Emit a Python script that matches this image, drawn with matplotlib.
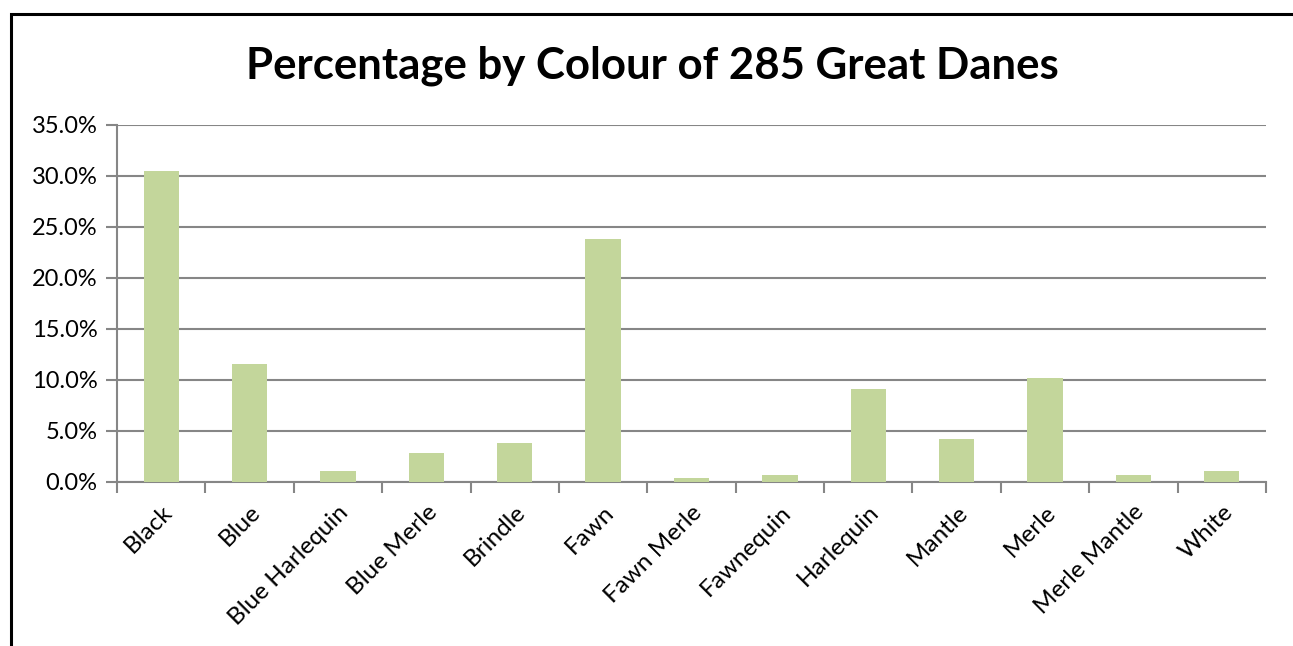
import numpy as np
import matplotlib.pyplot as plt
from matplotlib.patches import Rectangle
from matplotlib.ticker import FuncFormatter, FixedLocator

colours = ['Black', 'Blue', 'Blue Harlequin', 'Blue Merle', 'Brindle', 'Fawn',
           'Fawn Merle', 'Fawnequin', 'Harlequin', 'Mantle', 'Merle',
           'Merle Mantle', 'White']
counts = [87, 33, 3, 8, 11, 68, 1, 2, 26, 12, 29, 2, 3]
total_dogs = 285
percent = [c / total_dogs for c in counts]

plt.rcParams['font.family'] = ['Lato', 'DejaVu Sans']

fig = plt.figure(figsize=(12.93, 6.46), dpi=100)
ax = fig.add_axes([117 / 1293, 1 - 482 / 646, (1266 - 117) / 1293, (482 - 125) / 646])

x = np.arange(len(colours))
ax.bar(x, percent, width=0.4, color='#C3D69B', zorder=3)

grid_col = '#868686'
ax.set_ylim(0, 0.35)
ax.set_xlim(-0.5, len(colours) - 0.5)
ax.set_yticks(np.arange(0, 0.351, 0.05))
ax.yaxis.set_major_formatter(FuncFormatter(lambda v, _: f'{v * 100:.1f}%'))
ax.yaxis.grid(True, color=grid_col, linewidth=1.5, zorder=0)

# category ticks sit between the bars, labels sit under the bars
ax.xaxis.set_major_locator(FixedLocator(np.arange(-0.5, len(colours))))
ax.xaxis.set_minor_locator(FixedLocator(x))
ax.set_xticklabels([])
ax.set_xticklabels(colours, minor=True, rotation=45, ha='right',
                   rotation_mode='anchor', fontsize=17.5)
ax.tick_params(axis='x', which='major', length=8, width=1.5, color=grid_col, direction='out')
ax.tick_params(axis='x', which='minor', length=0, pad=14)
ax.tick_params(axis='y', length=8, width=1.5, color=grid_col, labelsize=17, pad=6)

for side in ['top', 'right']:
    ax.spines[side].set_visible(False)
ax.spines['left'].set_color(grid_col)
ax.spines['left'].set_linewidth(1.5)
ax.spines['bottom'].set_color(grid_col)
ax.spines['bottom'].set_linewidth(1.5)

fig.text(652 / 1293, 1 - 66 / 646, 'Percentage by Colour of 285 Great Danes',
         ha='center', va='center', fontsize=31.5, fontweight='bold')

# chart area frame, running off the right and bottom edges
fig.patches.append(Rectangle((10.5 / 1293, -0.1), 1.2, 1 - 13.5 / 646 + 0.1,
                             transform=fig.transFigure, fill=False,
                             edgecolor='black', linewidth=2.2))

fig.savefig('out.png', dpi=100)
